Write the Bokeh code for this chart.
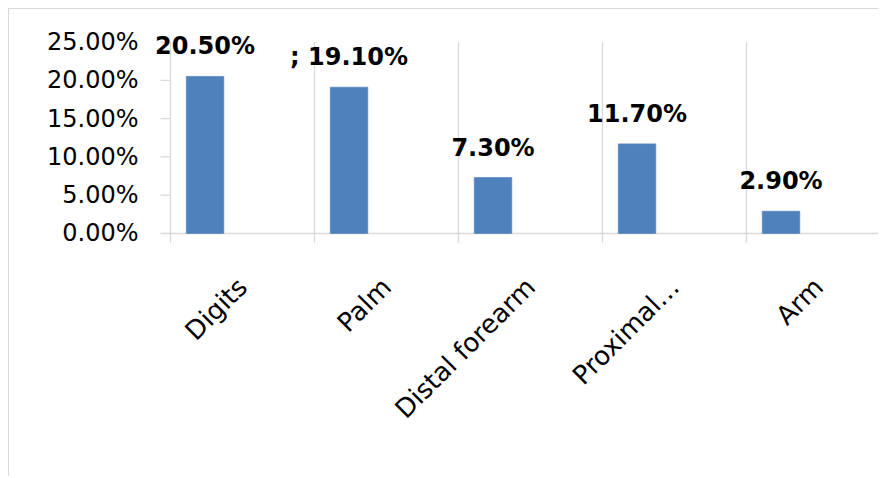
import math
from bokeh.plotting import figure
from bokeh.models import Range1d, FixedTicker, ColumnDataSource, LabelSet
from bokeh.transform import dodge
from bokeh.core.properties import value
from bokeh.embed import file_html
from bokeh.resources import INLINE

categories = ["Digits", "Palm", "Distal forearm", "Proximal…", "Arm"]
values = [20.5, 19.1, 7.3, 11.7, 2.9]
bar_labels = ["20.50%", "; 19.10%", "7.30%", "11.70%", "2.90%"]
y_ticks = [0, 5, 10, 15, 20, 25]
y_tick_labels = ["0.00%", "5.00%", "10.00%", "15.00%", "20.00%", "25.00%"]

GRID = "#d9d9d9"
BAR = "#4f81bd"
FONT = "DejaVu Sans"

PX = 144.0               # pixels per category
X0 = -22 / PX            # frame starts a little left of the value axis
TICK = 10 / PX           # tick length in data units

W, H = 870, 468
p = figure(width=W, height=H, output_backend="svg", toolbar_location=None,
           x_range=Range1d(X0, 4.924), y_range=Range1d(-1.307, 29.118),
           min_border_left=139, min_border_top=1, min_border_right=0,
           min_border_bottom=234)
p.margin = (8, 0, 0, 8)
p.styles = {"border-left": "1px solid " + GRID, "border-top": "1px solid " + GRID}
p.outline_line_color = None
p.xgrid.visible = False
p.ygrid.visible = False

n = len(categories)
src = ColumnDataSource(dict(
    pos=[i + 0.5 for i in range(n)],
    val=values,
    lab=bar_labels,
))

# category boundary lines (vertical gridlines + ticks below axis)
bounds = list(range(n + 1))
p.segment(x0=bounds, x1=bounds, y0=[-1.307] * len(bounds), y1=[y_ticks[-1]] * len(bounds),
          line_color=GRID, line_width=1.3)
# value-axis tick marks
p.segment(x0=[-TICK] * len(y_ticks), x1=[0] * len(y_ticks), y0=y_ticks, y1=y_ticks,
          line_color=GRID, line_width=1.3)
# baseline
p.segment(x0=[0], x1=[n], y0=[0], y1=[0], line_color=GRID, line_width=1.3)

xb = dodge("pos", -0.26, range=p.x_range)
p.vbar(x=xb, top="val", bottom=0, width=0.26, source=src,
       fill_color=BAR, line_color="#5a8ac6", line_width=0.8)

labels = LabelSet(x=xb, y="val", text="lab", source=src, text_align="center",
                  text_baseline="alphabetic", y_offset=22,
                  text_font=value(FONT), text_font_style="bold", text_font_size="24px",
                  text_color="black")
p.add_layout(labels)

# y axis
ya = p.yaxis[0]
ya.ticker = FixedTicker(ticks=y_ticks)
ya.major_label_overrides = {t: l for t, l in zip(y_ticks, y_tick_labels)}
ya.axis_line_color = None
ya.major_tick_in = 0
ya.major_tick_out = 0
ya.major_tick_line_color = None
ya.minor_tick_line_color = None
ya.major_label_standoff = 10
ya.major_label_text_font = FONT
ya.major_label_text_font_size = "24px"
ya.major_label_text_color = "black"

# x axis
xa = p.xaxis[0]
xa.ticker = FixedTicker(ticks=[i + 0.5 for i in range(n)])
xa.major_label_overrides = {i + 0.5: c for i, c in enumerate(categories)}
xa.major_label_orientation = math.pi / 4
xa.axis_line_color = None
xa.major_tick_line_color = None
xa.minor_tick_line_color = None
xa.major_label_standoff = 33
xa.major_label_text_font = FONT
xa.major_label_text_font_size = "26px"
xa.major_label_text_color = "black"

open("out.html", "w").write(file_html(p, INLINE))
